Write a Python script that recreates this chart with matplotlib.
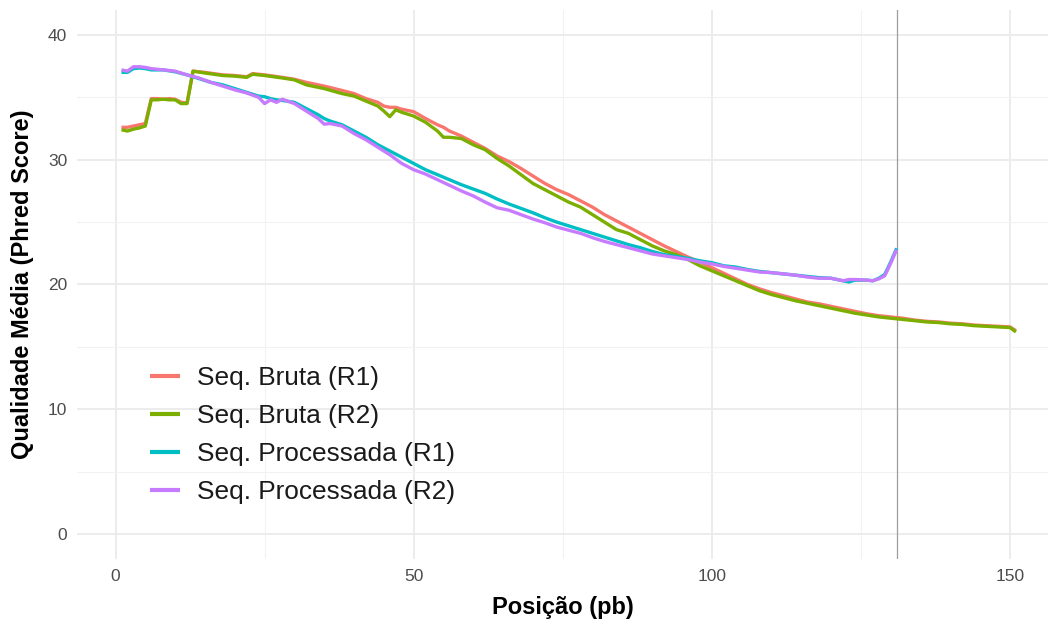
import matplotlib
matplotlib.use("Agg")
import matplotlib.pyplot as plt
from matplotlib.ticker import MultipleLocator

plt.rcParams['font.family'] = ['Liberation Sans', 'DejaVu Sans']

# ---------------- data ----------------
pos_raw = [1, 2, 3, 4, 5, 6, 7, 8, 9, 10, 11, 12, 13, 15, 18, 20, 22, 23, 25, 28,
           30, 32, 35, 38, 40, 42, 44, 45, 46, 47, 48, 50, 52, 54, 55, 56, 58, 60,
           62, 64, 66, 68, 70, 72, 74, 76, 78, 80, 82, 84, 86, 88, 90, 92, 94, 96,
           98, 100, 102, 104, 106, 108, 110, 112, 114, 116, 118, 120, 122, 124,
           126, 128, 130, 132, 134, 136, 138, 140, 142, 144, 146, 148, 150, 151]

bruta_r1 = [32.6, 32.6, 32.7, 32.8, 32.9, 34.9, 34.9, 34.85, 34.9, 34.85, 34.6, 34.55,
            37.1, 37.0, 36.8, 36.75, 36.65, 36.9, 36.8, 36.6, 36.45, 36.2, 35.9, 35.55,
            35.3, 34.9, 34.6, 34.3, 34.2, 34.2, 34.05, 33.85, 33.3, 32.8, 32.6, 32.3,
            31.9, 31.4, 30.9, 30.3, 29.85, 29.3, 28.7, 28.1, 27.6, 27.2, 26.7, 26.2,
            25.6, 25.1, 24.6, 24.1, 23.6, 23.1, 22.65, 22.2, 21.8, 21.35, 20.9, 20.45,
            20.0, 19.65, 19.35, 19.1, 18.85, 18.6, 18.45, 18.25, 18.05, 17.85, 17.65,
            17.5, 17.4, 17.3, 17.15, 17.05, 17.0, 16.9, 16.85, 16.75, 16.7, 16.65,
            16.6, 16.3]

bruta_r2 = [32.4, 32.3, 32.45, 32.55, 32.7, 34.8, 34.8, 34.85, 34.8, 34.8, 34.5, 34.5,
            37.1, 36.95, 36.75, 36.7, 36.6, 36.85, 36.75, 36.55, 36.4, 36.0, 35.7, 35.3,
            35.1, 34.7, 34.3, 33.9, 33.45, 34.0, 33.8, 33.5, 33.0, 32.3, 31.8, 31.8,
            31.7, 31.2, 30.8, 30.1, 29.5, 28.8, 28.1, 27.6, 27.1, 26.6, 26.2, 25.6,
            25.0, 24.4, 24.1, 23.6, 23.1, 22.7, 22.4, 22.0, 21.5, 21.1, 20.7, 20.3,
            19.9, 19.5, 19.2, 18.95, 18.7, 18.5, 18.3, 18.1, 17.9, 17.7, 17.55, 17.4,
            17.3, 17.2, 17.1, 17.0, 16.95, 16.85, 16.8, 16.7, 16.65, 16.6, 16.55, 16.2]

pos_proc = [1, 2, 3, 4, 5, 6, 8, 10, 12, 14, 16, 18, 20, 22, 24, 25, 26, 27, 28, 30,
            32, 34, 35, 36, 38, 40, 42, 44, 46, 48, 50, 52, 54, 56, 58, 60, 62, 64,
            66, 68, 70, 72, 74, 76, 78, 80, 82, 84, 86, 88, 90, 92, 94, 96, 98, 100,
            102, 104, 106, 108, 110, 112, 114, 116, 118, 120, 122, 123, 124, 126,
            127, 128, 129, 130, 131]

proc_r1 = [37.0, 37.0, 37.3, 37.35, 37.3, 37.2, 37.2, 37.05, 36.8, 36.5, 36.2, 36.0,
           35.7, 35.4, 35.1, 35.05, 34.9, 34.8, 34.75, 34.6, 34.1, 33.6, 33.3, 33.1,
           32.8, 32.3, 31.8, 31.2, 30.7, 30.2, 29.7, 29.2, 28.8, 28.4, 28.0, 27.65,
           27.3, 26.85, 26.45, 26.1, 25.75, 25.35, 25.0, 24.7, 24.4, 24.1, 23.8, 23.5,
           23.2, 22.95, 22.65, 22.4, 22.25, 22.1, 21.9, 21.75, 21.5, 21.4, 21.2, 21.05,
           20.95, 20.85, 20.75, 20.65, 20.55, 20.5, 20.3, 20.2, 20.35, 20.35, 20.3,
           20.5, 20.8, 21.8, 22.9]

proc_r2 = [37.2, 37.1, 37.45, 37.45, 37.4, 37.3, 37.2, 37.1, 36.8, 36.55, 36.2, 35.9,
           35.6, 35.35, 35.0, 34.5, 34.8, 34.6, 34.85, 34.5, 33.9, 33.3, 32.85, 32.9,
           32.7, 32.1, 31.6, 31.0, 30.4, 29.7, 29.2, 28.85, 28.4, 27.95, 27.5, 27.1,
           26.6, 26.15, 25.95, 25.6, 25.25, 24.95, 24.6, 24.35, 24.1, 23.75, 23.45,
           23.2, 22.95, 22.7, 22.45, 22.3, 22.15, 22.0, 21.8, 21.65, 21.45, 21.3, 21.15,
           21.0, 20.95, 20.85, 20.75, 20.6, 20.5, 20.5, 20.3, 20.4, 20.4, 20.35, 20.3,
           20.45, 20.7, 21.7, 22.8]

labels = ["Seq. Bruta (R1)", "Seq. Bruta (R2)", "Seq. Processada (R1)", "Seq. Processada (R2)"]
colors = ["#F8766D", "#7CAE00", "#00BFC4", "#C77CFF"]
cutoff = 131
x_ticks = [0, 50, 100, 150]
y_ticks = [0, 10, 20, 30, 40]

# ---------------- figure ----------------
W, H = 1051, 623
fig = plt.figure(figsize=(W / 100, H / 100), dpi=100)
ax = fig.add_axes([77 / W, (H - 559) / H, (1048 - 77) / W, (559 - 10) / H])

x0px = 115.5
pxu = 5.963
ax.set_xlim(-(x0px - 77) / pxu, (1048 - x0px) / pxu)
ax.set_ylim(-2, 42)

for s in ax.spines.values():
    s.set_visible(False)

ax.set_xticks(x_ticks)
ax.set_yticks(y_ticks)
ax.xaxis.set_minor_locator(MultipleLocator(25))
ax.yaxis.set_minor_locator(MultipleLocator(5))
ax.grid(which='major', color='#EBEBEB', linewidth=1.3)
ax.grid(which='minor', color='#F2F2F2', linewidth=0.8)
ax.set_axisbelow(True)
ax.tick_params(which='both', length=0)
ax.tick_params(axis='x', pad=7, labelsize=12.5, labelcolor='#4D4D4D')
ax.tick_params(axis='y', pad=7, labelsize=12.5, labelcolor='#4D4D4D')

series = [(pos_raw, bruta_r1), (pos_raw, bruta_r2), (pos_proc, proc_r1), (pos_proc, proc_r2)]
for (xs, ys), lab, col in zip(series, labels, colors):
    ax.plot(xs, ys, color=col, linewidth=2.4, label=lab, solid_joinstyle='round',
            solid_capstyle='butt')

ax.axvline(cutoff, color='#9E9E9E', linewidth=0.9, zorder=1)

ax.set_xlabel("Posição (pb)", fontsize=17, fontweight='bold', labelpad=9)
ax.set_ylabel("Qualidade Média (Phred Score)", fontsize=17, fontweight='bold', labelpad=10)

leg = ax.legend(loc='upper left', bbox_to_anchor=(150 / W, (H - 366) / H),
                bbox_transform=fig.transFigure, frameon=False, fontsize=18.9,
                handlelength=1.15, handletextpad=0.65, labelspacing=0.53,
                borderpad=0, borderaxespad=0)
for line in leg.get_lines():
    line.set_linewidth(3)
for t in leg.get_texts():
    t.set_color('#1A1A1A')

fig.savefig("out.png", dpi=100)
